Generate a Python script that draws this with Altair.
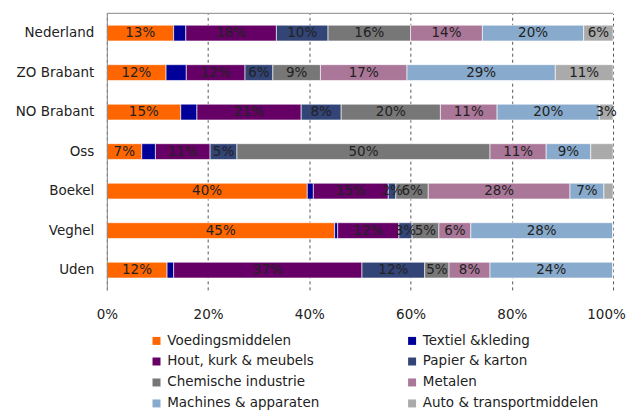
import altair as alt
import pandas as pd

regions = ["Nederland", "ZO Brabant", "NO Brabant", "Oss", "Boekel", "Veghel", "Uden"]
sectors = ["Voedingsmiddelen", "Textiel &kleding", "Hout, kurk & meubels", "Papier & karton",
           "Chemische industrie", "Metalen", "Machines & apparaten", "Auto & transportmiddelen"]
colors = ["#FF6600", "#000099", "#660066", "#334477", "#777777", "#AA7799", "#88AACC", "#AAAAAA"]

# share per sector (%), one list per sector, in region order
voeding  = [13.2, 11.7, 14.6, 6.9, 39.6, 45.0, 11.9]
textiel  = [2.4, 4.0, 3.2, 2.7, 1.2, 0.6, 1.3]
hout     = [17.9, 11.6, 20.6, 10.8, 14.8, 12.1, 37.2]
papier   = [10.2, 5.5, 7.9, 5.3, 1.5, 2.6, 12.4]
chemisch = [16.3, 9.4, 19.6, 50.0, 6.4, 5.3, 4.8]
metalen  = [14.2, 17.1, 11.2, 11.1, 28.0, 6.3, 8.1]
machines = [20.0, 29.3, 20.2, 8.8, 6.7, 28.0, 24.2]
auto     = [5.8, 11.4, 2.7, 4.4, 1.8, 0.1, 0.1]

series = [voeding, textiel, hout, papier, chemisch, metalen, machines, auto]
# labels that are not shown in the reference (besides tiny ones)
hidden = {("Oss", "Auto & transportmiddelen"), ("Boekel", "Auto & transportmiddelen")}

rows = []
for si, (name, vals) in enumerate(zip(sectors, series)):
    for r, v in zip(regions, vals):
        show = (v >= 1.4) and name != "Textiel &kleding" and (r, name) not in hidden
        rows.append({"region": r, "sector": name, "order": si, "value": v,
                     "label": f"{round(v):d}%" if show else ""})
df = pd.DataFrame(rows)

# legend is filled column by column: reorder so it reads row by row
legend_order = sectors[0::2] + sectors[1::2]
legend_colors = colors[0::2] + colors[1::2]

W, H = 507, 277
FONT = "DejaVu Sans"

base = alt.Chart(df).transform_stack(
    stack="value", groupby=["region"], sort=[alt.SortField("order")], as_=["v0", "v1"]
).transform_calculate(mid="(datum.v0 + datum.v1) / 2")

yenc = alt.Y("region:N", sort=regions, title=None,
             scale=alt.Scale(paddingInner=0.6, paddingOuter=0.3),
             axis=alt.Axis(domain=True, domainColor="#888888", ticks=False, labelPadding=13,
                           labelFontSize=13.5, labelFont=FONT, labelColor="#222222", zindex=1))

bars = base.mark_bar(stroke="#ffffff", strokeWidth=0.6).encode(
    x=alt.X("v0:Q", title=None,
            scale=alt.Scale(domain=[0, 100], nice=False, zero=True),
            axis=alt.Axis(values=[0, 20, 40, 60, 80, 100], labelExpr="datum.value + '%'",
                          labelFlush=False,
                          labelOffset=alt.ExprRef("datum.value == 100 ? -7 : 0"),
                          domain=False, ticks=False, grid=True, gridDash=[3, 3],
                          gridColor="#555555", gridWidth=1, labelPadding=18,
                          labelFontSize=13.5, labelFont=FONT, labelColor="#222222")),
    x2="v1:Q",
    y=yenc,
    color=alt.Color("sector:N",
                    scale=alt.Scale(domain=legend_order, range=legend_colors),
                    legend=alt.Legend(title=None, orient="none", legendX=43, legendY=321,
                                      columns=2, columnPadding=86, rowPadding=6,
                                      symbolType="square", symbolSize=64, symbolStrokeWidth=0,
                                      labelFontSize=13.5, labelFont=FONT, labelColor="#222222",
                                      labelOffset=4, padding=0, labelLimit=300)),
    order=alt.Order("order:Q"),
)

text = base.mark_text(fontSize=13.5, font=FONT, color="#222222", baseline="middle").encode(
    x="mid:Q",
    y=alt.Y("region:N", sort=regions),
    text="label:N",
)

top = alt.Chart(pd.DataFrame({"a": [0]})).mark_rule(color="#888888", strokeWidth=1).encode(
    x=alt.value(0), x2=alt.value(W), y=alt.value(0)
)

chart = alt.layer(bars, text, top).properties(
    width=W, height=H,
    autosize=alt.AutoSizeParams(type="none"),
    padding={"left": 99, "top": 5, "right": 13, "bottom": 122},
).configure_view(stroke=None)

chart.save("out.html", embed_options={"renderer": "svg", "actions": False})
